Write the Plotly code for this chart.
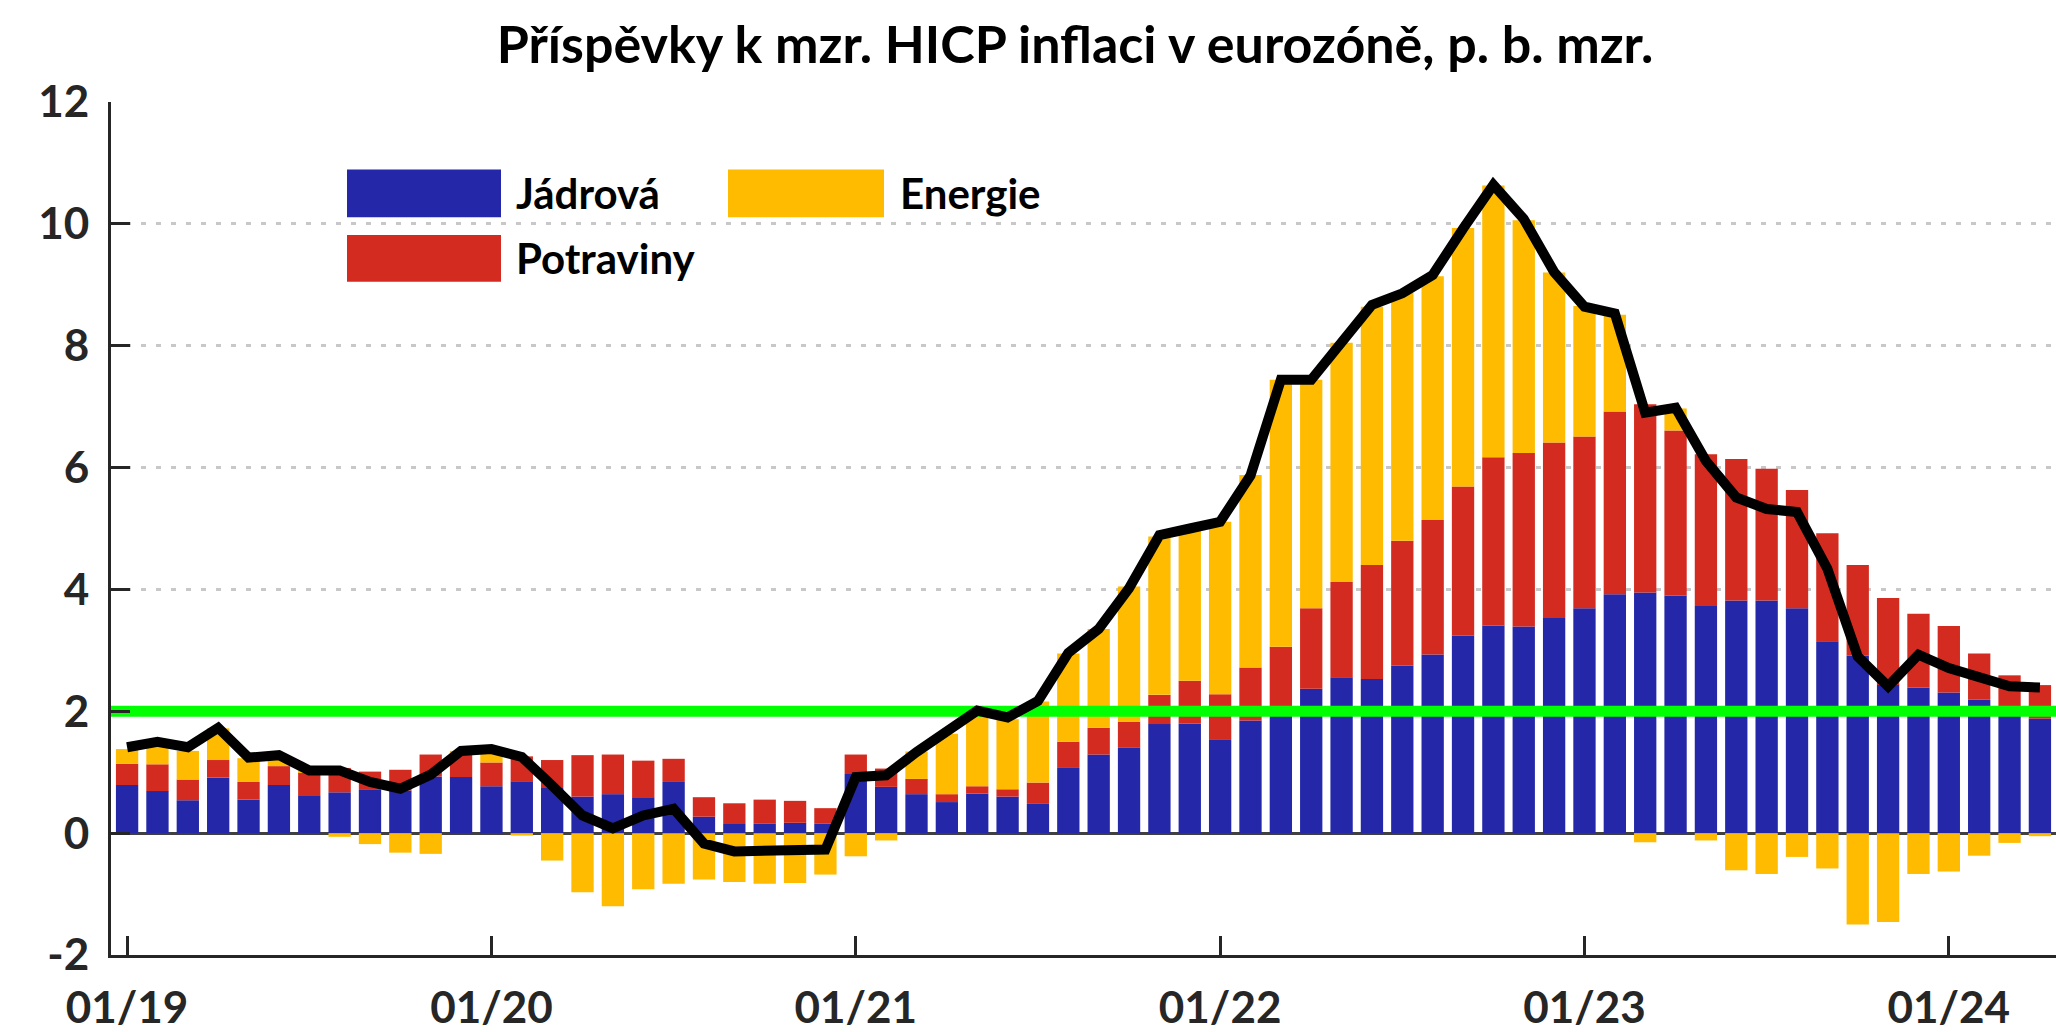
import plotly.graph_objects as go

# ---- data ----
months = [f"{m:02d}/{y:02d}" for y in range(19, 25) for m in range(1, 13)][:64]

core = [0.79, 0.69, 0.54, 0.91, 0.55, 0.79, 0.61, 0.67, 0.72, 0.70, 0.93, 0.92,
        0.77, 0.85, 0.74, 0.60, 0.64, 0.59, 0.84, 0.27, 0.15, 0.16, 0.17, 0.16,
        0.97, 0.76, 0.64, 0.51, 0.65, 0.60, 0.48, 1.07, 1.29, 1.40, 1.79, 1.80,
        1.54, 1.85, 2.01, 2.37, 2.56, 2.53, 2.75, 2.93, 3.24, 3.41, 3.39, 3.53,
        3.69, 3.92, 3.95, 3.90, 3.73, 3.82, 3.82, 3.69, 3.15, 2.91, 2.43, 2.39,
        2.31, 2.19, 2.08, 1.88]

food = [0.35, 0.44, 0.34, 0.29, 0.29, 0.31, 0.39, 0.40, 0.29, 0.34, 0.36, 0.38,
        0.39, 0.41, 0.46, 0.68, 0.65, 0.60, 0.38, 0.32, 0.34, 0.39, 0.36, 0.25,
        0.32, 0.30, 0.25, 0.13, 0.12, 0.12, 0.35, 0.43, 0.44, 0.43, 0.48, 0.70,
        0.74, 0.87, 1.05, 1.32, 1.56, 1.87, 2.05, 2.21, 2.45, 2.76, 2.85, 2.88,
        2.82, 3.00, 3.09, 2.71, 2.49, 2.32, 2.16, 1.94, 1.77, 1.49, 1.43, 1.21,
        1.09, 0.76, 0.51, 0.55]

energy = [0.24, 0.35, 0.47, 0.52, 0.39, 0.17, 0.03, -0.06, -0.18, -0.32, -0.34, 0.05,
          0.14, -0.04, -0.45, -0.97, -1.20, -0.92, -0.83, -0.76, -0.80, -0.83, -0.82, -0.68,
          -0.38, -0.12, 0.45, 0.99, 1.21, 1.15, 1.33, 1.45, 1.62, 2.22, 2.60, 2.50,
          2.83, 3.16, 4.38, 3.75, 3.93, 4.24, 4.07, 4.00, 4.24, 4.46, 3.82, 2.79,
          2.14, 1.59, -0.15, 0.36, -0.12, -0.61, -0.67, -0.39, -0.58, -1.50, -1.46, -0.67,
          -0.63, -0.37, -0.16, -0.05]

hicp = [1.41, 1.50, 1.41, 1.73, 1.24, 1.28, 1.03, 1.03, 0.84, 0.73, 0.96, 1.35,
        1.38, 1.25, 0.78, 0.29, 0.08, 0.29, 0.40, -0.17, -0.30, -0.28, -0.29, -0.27,
        0.92, 0.95, 1.33, 1.65, 2.01, 1.90, 2.17, 2.96, 3.35, 4.02, 4.89, 5.00,
        5.11, 5.87, 7.44, 7.44, 8.04, 8.67, 8.86, 9.16, 9.92, 10.64, 10.08, 9.21,
        8.64, 8.53, 6.90, 6.98, 6.11, 5.51, 5.32, 5.27, 4.34, 2.90, 2.41, 2.93,
        2.71, 2.55, 2.41, 2.39]

target = 2.0
y_ticks = [-2, 0, 2, 4, 6, 8, 10, 12]
y_tick_text = [str(v) for v in y_ticks]

# ---- styling ----
BLUE = "#2327A8"
RED = "#D42B20"
YELLOW = "#FFBB00"
GREEN = "#00FF00"
AXIS = "#262626"
FONT = "Lato"

x = list(range(len(months)))
tick_idx = [i for i, m in enumerate(months) if m.startswith("01/")]
tick_txt = [months[i] for i in tick_idx]
x_range = [-0.53, len(months) - 0.47]

fig = go.Figure()
fig.add_bar(x=x, y=core, name="Jádrová", marker=dict(color=BLUE, line=dict(width=0)))
fig.add_bar(x=x, y=food, name="Potraviny", marker=dict(color=RED, line=dict(width=0)))
fig.add_bar(x=x, y=energy, name="Energie", marker=dict(color=YELLOW, line=dict(width=0)))
fig.add_scatter(x=x_range, y=[target, target], mode="lines",
                line=dict(color=GREEN, width=11), hoverinfo="skip")
fig.add_scatter(x=x, y=hicp, mode="lines", name="HICP",
                line=dict(color="black", width=10))

W, H = 2056, 1032
ML, MR, MT, MB = 111, 0, 102, 71

fig.update_layout(
    width=W, height=H,
    margin=dict(l=ML, r=MR, t=MT, b=MB),
    barmode="relative", bargap=0.265,
    plot_bgcolor="white", paper_bgcolor="white",
    showlegend=False,
    font=dict(family=FONT, color=AXIS),
    title=dict(text="Příspěvky k mzr. HICP inflaci v eurozóně, p. b. mzr.",
               x=1075 / W, xref="container", xanchor="center",
               y=1 - 45 / H, yref="container", yanchor="middle",
               font=dict(family=FONT, size=52, color="black", weight=700)),
    xaxis=dict(range=x_range, tickmode="array", tickvals=tick_idx, ticktext=tick_txt,
               ticks="inside", ticklen=19, tickwidth=3, tickcolor=AXIS,
               showline=True, linewidth=3, linecolor=AXIS,
               showgrid=False, zeroline=False, ticklabelstandoff=12,
               tickfont=dict(family=FONT, size=44, color=AXIS, weight=700)),
    yaxis=dict(range=[y_ticks[0], y_ticks[-1]], tickmode="array", tickvals=y_ticks,
               ticktext=y_tick_text,
               ticks="inside", ticklen=19, tickwidth=3, tickcolor=AXIS,
               showline=True, linewidth=3, linecolor=AXIS,
               showgrid=True, gridcolor="#C8C8C8", gridwidth=2.5, griddash="5px,10px",
               zeroline=True, zerolinecolor="#404040", zerolinewidth=2.5,
               ticklabelstandoff=10,
               tickfont=dict(family=FONT, size=44, color=AXIS, weight=700)),
)

# ---- manual legend with large swatches ----
pw, ph = W - ML - MR, H - MT - MB
def px(xp): return (xp - ML) / pw
def py(yp): return 1 - (yp - MT) / ph

legend_items = [("Jádrová", BLUE, 347, 501, 170, 218, 514),
                ("Potraviny", RED, 347, 501, 236, 283, 514),
                ("Energie", YELLOW, 728, 884, 170, 218, 898)]
for name, col, x0, x1, y0, y1, tx in legend_items:
    fig.add_shape(type="rect", xref="paper", yref="paper",
                  x0=px(x0), x1=px(x1), y0=py(y1), y1=py(y0),
                  fillcolor=col, line=dict(width=0))
    fig.add_annotation(xref="paper", yref="paper", x=px(tx), y=py((y0 + y1) / 2),
                       xanchor="left", yanchor="middle", showarrow=False,
                       text=name, font=dict(family=FONT, size=42, color="black", weight=700))

fig.write_html("out.html", config={"displayModeBar": False},
               post_script="document.body.style.margin='0';")
